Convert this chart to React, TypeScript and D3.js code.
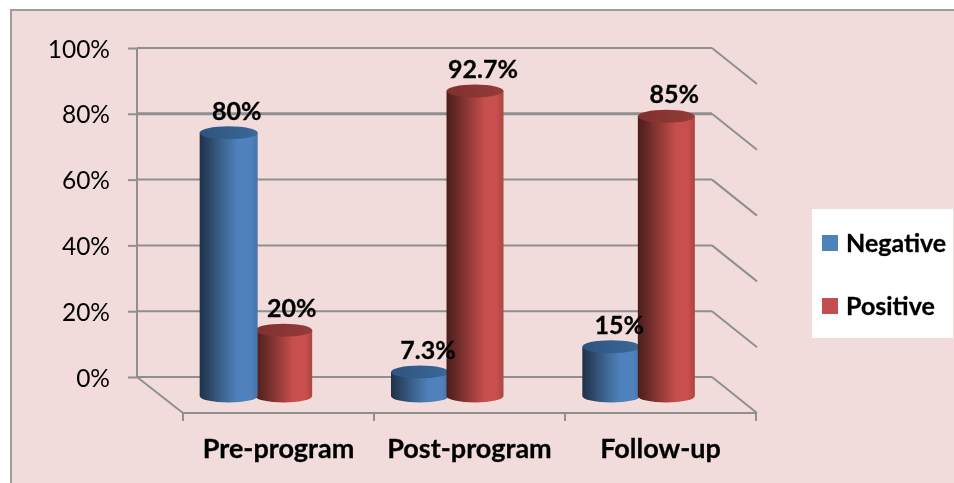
import { useEffect, useRef } from 'react'
import * as d3 from 'd3'

const categories = ['Pre-program', 'Post-program', 'Follow-up']
const seriesNames = ['Negative', 'Positive']
const negativeValues = [80, 7.3, 15]
const positiveValues = [20, 92.7, 85]
const valueLabels = [['80%', '7.3%', '15%'], ['20%', '92.7%', '85%']]
const yTicks = [0, 20, 40, 60, 80, 100]

const width = 954
const height = 483
const fontFamily = 'Lato, "Open Sans", sans-serif'

export default function App() {
  const svgRef = useRef<SVGSVGElement>(null)

  useEffect(() => {
    document.body.style.margin = '0'
    const svg = d3.select(svgRef.current)
    svg.selectAll('*').remove()

    const defs = svg.append('defs')
    defs.append('filter').attr('id', 'soft').attr('x', '-5%').attr('y', '-5%').attr('width', '110%').attr('height', '110%')
      .append('feGaussianBlur').attr('stdDeviation', 0.45)

    const gradient = (id: string, stops: [number, string][]) => {
      const g = defs.append('linearGradient').attr('id', id)
      stops.forEach(([o, c]) => g.append('stop').attr('offset', o).attr('stop-color', c))
    }
    gradient('side0', [[0, '#1e3148'], [0.12, '#28405e'], [0.4, '#3d6590'], [0.65, '#4f81bd'], [0.88, '#4f81bd'], [1, '#4673a8']])
    gradient('side1', [[0, '#4c1e1c'], [0.12, '#5e2624'], [0.4, '#943a38'], [0.68, '#c8504d'], [0.88, '#c8504d'], [1, '#aa4542']])
    gradient('top0', [[0, '#2e5380'], [1, '#3b6897']])
    gradient('top1', [[0, '#7e302e'], [1, '#953b39']])

    // Background and frame
    svg.append('rect').attr('width', width).attr('height', height).attr('fill', 'white')
    svg.append('rect').attr('x', 11).attr('y', 10).attr('width', width - 11).attr('height', height - 10).attr('fill', '#f2dcdb')
    svg.append('path').attr('d', `M11,${height}V10H${width}`).attr('fill', 'none').attr('stroke', '#9c9c9c').attr('stroke-width', 2)

    const wallLeft = 137
    const wallRight = 712
    const depthX = 45
    const depthY = 36
    const yScale = d3.scaleLinear().domain([0, 100]).range([377, 48])
    const g = svg.append('g').attr('filter', 'url(#soft)')
    const grey = '#8f8f8f'

    // Walls and gridlines
    const yAxis = g.append('g')
      .attr('transform', `translate(${wallLeft},0)`)
      .call(d3.axisLeft(yScale).tickValues(yTicks).tickFormat(d => `${d}%`).tickSize(9).tickPadding(18))
    yAxis.select('.domain').attr('stroke', grey).attr('stroke-width', 2).attr('d', `M0,${yScale(100)}V${yScale(0)}`)
    yAxis.selectAll('.tick line').attr('stroke', grey).attr('stroke-width', 2)
    yAxis.selectAll('.tick text')
      .attr('font-family', fontFamily).attr('font-size', 24.5).attr('fill', '#000').attr('dy', 9)

    g.selectAll('.grid').data(yTicks).enter().append('line')
      .attr('class', 'grid')
      .attr('x1', wallLeft).attr('x2', wallRight)
      .attr('y1', d => yScale(d)).attr('y2', d => yScale(d))
      .attr('stroke', grey)
      .attr('stroke-width', d => (d === 80 ? 3 : 2))
    g.selectAll('.side').data(yTicks).enter().append('line')
      .attr('class', 'side')
      .attr('x1', wallRight).attr('x2', wallRight + depthX)
      .attr('y1', d => yScale(d)).attr('y2', d => yScale(d) + depthY)
      .attr('stroke', grey).attr('stroke-width', 2)

    // Floor
    const floorLeft = wallLeft + 46
    const floorRight = wallRight + 44
    const floorY = yScale(0) + depthY
    g.append('path')
      .attr('d', `M${wallLeft},${yScale(0)}L${floorLeft},${floorY}H${floorRight}`)
      .attr('fill', 'none').attr('stroke', grey).attr('stroke-width', 2)

    const floorX = d3.scaleBand().domain(categories).range([floorLeft, floorRight])
    const floorTicks = [...categories.map(c => floorX(c)!), floorRight]
    g.selectAll('.floor-tick').data(floorTicks).enter().append('line')
      .attr('class', 'floor-tick')
      .attr('x1', d => d).attr('x2', d => d)
      .attr('y1', floorY).attr('y2', floorY + 8)
      .attr('stroke', grey).attr('stroke-width', 2)

    const xAxis = g.append('g')
      .attr('transform', `translate(0,${floorY})`)
      .call(d3.axisBottom(floorX).tickSize(0).tickPadding(26))
    xAxis.select('.domain').remove()
    xAxis.selectAll('.tick text')
      .attr('font-family', fontFamily).attr('font-size', 27).attr('font-weight', 700).attr('fill', '#000')
      .attr('stroke', '#000').attr('stroke-width', 0.3)

    // Cylinders stand halfway into the floor
    const barX = d3.scaleBand().domain(categories).range([160, 734])
    const barY = yScale.copy().range([396, 67])
    const offset = d3.scaleOrdinal<string, number>().domain(seriesNames).range([-27, 28])
    const cylWidth = d3.scaleOrdinal<string, number>().domain(seriesNames).range([58, 57])
    const ry = 6.5

    const rows = categories.flatMap((c, i) => {
      const pair = [
        { c, s: 0, v: negativeValues[i], label: valueLabels[0][i] },
        { c, s: 1, v: positiveValues[i], label: valueLabels[1][i] },
      ]
      return pair.sort((a, b) => a.v - b.v) // the taller one hides its neighbour
    })
    const cx = (d: { c: string; s: number }) => barX(d.c)! + barX.bandwidth() / 2 + offset(seriesNames[d.s])

    const bars = g.selectAll('.bar').data(rows).enter().append('g').attr('class', 'bar')
    bars.append('path')
      .attr('d', d => {
        const rx = cylWidth(seriesNames[d.s]) / 2
        const x = cx(d)
        return `M${x - rx},${barY(d.v)}V${barY(0)}A${rx},${ry} 0 0 0 ${x + rx},${barY(0)}V${barY(d.v)}Z`
      })
      .attr('fill', d => `url(#side${d.s})`)
    bars.append('ellipse')
      .attr('cx', cx).attr('cy', d => barY(d.v))
      .attr('rx', d => cylWidth(seriesNames[d.s]) / 2).attr('ry', ry)
      .attr('fill', d => `url(#top${d.s})`)

    // Value labels
    g.selectAll('.value').data(rows).enter().append('text')
      .attr('class', 'value')
      .attr('x', d => cx(d) + 8).attr('y', d => barY(d.v) - 13)
      .attr('text-anchor', 'middle')
      .attr('font-family', fontFamily).attr('font-size', 25).attr('font-weight', 700).attr('fill', '#000')
      .attr('stroke', '#000').attr('stroke-width', 0.3)
      .text(d => d.label)

    // Legend
    const legend = g.append('g')
    legend.append('rect').attr('x', 812).attr('y', 209).attr('width', 141).attr('height', 129).attr('fill', 'white')
    const legendY = d3.scalePoint().domain(seriesNames).range([243, 306])
    const swatch = d3.scaleOrdinal<string, string>().domain(seriesNames).range(['#4f81bd', '#c0504d'])
    seriesNames.forEach(name => {
      legend.append('rect')
        .attr('x', 822).attr('y', legendY(name)! - 8).attr('width', 16).attr('height', 16)
        .attr('fill', swatch(name))
      legend.append('text')
        .attr('x', 846).attr('y', legendY(name)! + 9)
        .attr('font-family', fontFamily).attr('font-size', 25).attr('font-weight', 700).attr('fill', '#000')
        .attr('stroke', '#000').attr('stroke-width', 0.3)
        .text(name)
    })
  }, [])

  return <svg ref={svgRef} width={width} height={height} style={{ display: 'block' }} />
}
